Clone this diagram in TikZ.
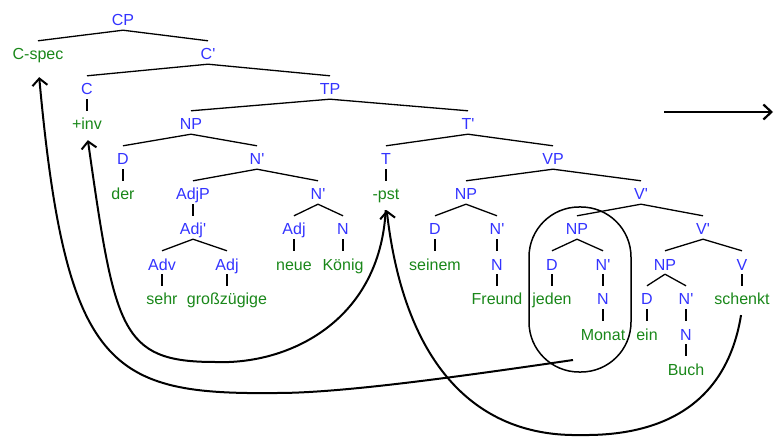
\documentclass[tikz,border=0pt]{standalone}
\usepackage{fontspec}
\setmainfont{Liberation Sans}
\usetikzlibrary{arrows.meta}
\definecolor{catblue}{RGB}{51,51,255}
\definecolor{wordgreen}{RGB}{25,135,25}
\newcommand{\bk}{\textquotesingle}
\tikzset{
  lbl/.style={font=\fontsize{16}{19}\selectfont, anchor=base, inner xsep=1pt,
    inner ysep=1pt, text height=18pt, text depth=3pt},
  cat/.style={lbl, text=catblue},
  word/.style={lbl, text=wordgreen},
  branch/.style={line width=1.3pt},
  move/.style={line width=2pt, -{Straight Barb[length=7pt,width=15pt]}},
}
\begin{document}
\begin{tikzpicture}[x=1pt, y=-1pt]
  \useasboundingbox (0,0) rectangle (784,446);
  % tree
  \node[cat] (CP) at (123,26) {CP};
  \node[word] (Cspec) at (38,60) {C-spec};
  \node[cat] (Cbar) at (208,60) {C\bk};
  \node[cat] (C) at (87,95) {C};
  \node[cat] (TP) at (330,95) {TP};
  \node[word] (inv) at (87,130) {+inv};
  \node[cat] (NPs) at (191,130) {NP};
  \node[cat] (Tbar) at (468,130) {T\bk};
  \node[cat] (D1) at (123,165) {D};
  \node[cat] (N1bar) at (257,165) {N\bk};
  \node[cat] (T) at (386,165) {T};
  \node[cat] (VP) at (553,165) {VP};
  \node[word] (der) at (123,200) {der};
  \node[cat] (AdjP) at (193,200) {AdjP};
  \node[cat] (N2bar) at (318,200) {N\bk};
  \node[word] (pst) at (386,200) {-pst};
  \node[cat] (NP2) at (466,200) {NP};
  \node[cat] (V1bar) at (641,200) {V\bk};
  \node[cat] (Adjbar) at (193,235) {Adj\bk};
  \node[cat] (Adj2) at (294,235) {Adj};
  \node[cat] (N2) at (343,235) {N};
  \node[cat] (D2) at (435,235) {D};
  \node[cat] (N3bar) at (497,235) {N\bk};
  \node[cat] (NP3) at (577,235) {NP};
  \node[cat] (V2bar) at (703,235) {V\bk};
  \node[cat] (Adv) at (162,270) {Adv};
  \node[cat] (Adj1) at (227,270) {Adj};
  \node[word] (neue) at (294,270) {neue};
  \node[word] (Koenig) at (343,270) {König};
  \node[word] (seinem) at (435,270) {seinem};
  \node[cat] (N3) at (497,270) {N};
  \node[cat] (D3) at (552,270) {D};
  \node[cat] (N4bar) at (603,270) {N\bk};
  \node[cat] (NP4) at (665,270) {NP};
  \node[cat] (V) at (742,270) {V};
  \node[word] (sehr) at (162,305) {sehr};
  \node[word] (gross) at (227,305) {großzügige};
  \node[word] (Freund) at (497,305) {Freund};
  \node[word] (jeden) at (552,305) {jeden};
  \node[cat] (N4) at (603,305) {N};
  \node[cat] (D4) at (647,305) {D};
  \node[cat] (N5bar) at (686,305) {N\bk};
  \node[word] (schenkt) at (742,305) {schenkt};
  \node[word] (Monat) at (603,340) {Monat};
  \node[word] (ein) at (647,340) {ein};
  \node[cat] (N5) at (686,340) {N};
  \node[word] (Buch) at (686,375) {Buch};
  \foreach \p/\c in {CP/Cspec, CP/Cbar, Cbar/C, Cbar/TP, C/inv, TP/NPs, TP/Tbar,
      NPs/D1, NPs/N1bar, D1/der, N1bar/AdjP, N1bar/N2bar, AdjP/Adjbar,
      Adjbar/Adv, Adjbar/Adj1, Adv/sehr, Adj1/gross, N2bar/Adj2, N2bar/N2,
      Adj2/neue, N2/Koenig, Tbar/T, Tbar/VP, T/pst, VP/NP2, VP/V1bar,
      NP2/D2, NP2/N3bar, D2/seinem, N3bar/N3, N3/Freund, V1bar/NP3, V1bar/V2bar,
      NP3/D3, NP3/N4bar, D3/jeden, N4bar/N4, N4/Monat, V2bar/NP4, V2bar/V,
      NP4/D4, NP4/N5bar, D4/ein, N5bar/N5, N5/Buch, V/schenkt}
    \draw[branch] (\p.south) -- (\c.north);
  % moved NP
  \node[draw, line width=1.5pt, rounded corners=50pt, minimum width=102pt,
    minimum height=165pt, inner sep=0pt] (ring) at (580,289.5) {};
  % movements
  \coordinate (np) at (573,360);
  \draw[move, shorten >=13pt] (np) .. controls (450,378) and (340,393) .. (277,393)
    .. controls (110,395) and (66,370) .. (Cspec.south);
  \draw[line width=2pt, shorten <=6pt, -{Straight Barb[length=7pt,width=15pt]},
    shorten >=6pt] (pst.south) .. controls (380,320) and (290,365) .. (215,362)
    .. controls (120,362) and (115,330) .. (inv.south);
  \draw[move, shorten <=6pt, shorten >=6pt] (schenkt.south)
    .. controls (724,420) and (640,436) .. (580,435)
    .. controls (480,437) and (405,370) .. (pst.south);
  % next step
  \coordinate (a) at (664,112);
  \coordinate (b) at (773,112);
  \draw[line width=2.2pt, -{Straight Barb[length=8pt,width=15pt]}] (a) -- (b);
\end{tikzpicture}
\end{document}
